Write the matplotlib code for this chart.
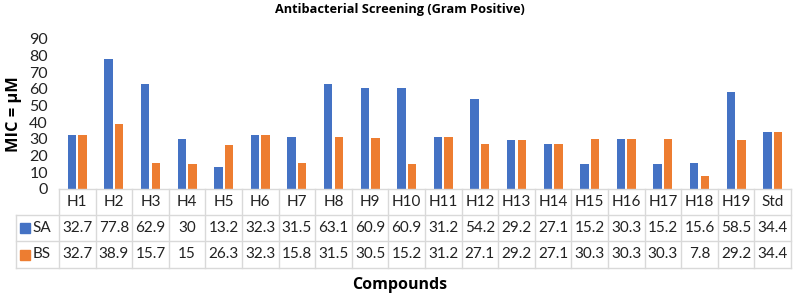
import matplotlib.pyplot as plt
from matplotlib.transforms import blended_transform_factory
import numpy as np

# data
compounds = ['H1', 'H2', 'H3', 'H4', 'H5', 'H6', 'H7', 'H8', 'H9', 'H10',
             'H11', 'H12', 'H13', 'H14', 'H15', 'H16', 'H17', 'H18', 'H19', 'Std']
sa = [32.7, 77.8, 62.9, 30, 13.2, 32.3, 31.5, 63.1, 60.9, 60.9,
      31.2, 54.2, 29.2, 27.1, 15.2, 30.3, 15.2, 15.6, 58.5, 34.4]
bs = [32.7, 38.9, 15.7, 15, 26.3, 32.3, 15.8, 31.5, 30.5, 15.2,
      31.2, 27.1, 29.2, 27.1, 30.3, 30.3, 30.3, 7.8, 29.2, 34.4]
series = [('SA', sa, '#4472C4'), ('BS', bs, '#ED7D31')]

plt.rcParams['font.family'] = ['Lato', 'DejaVu Sans']
bold_font = ['Open Sans', 'DejaVu Sans']

fig = plt.figure(figsize=(7.99, 2.96), dpi=100)
ax = fig.add_axes([59/799, 1-189/296, 732/799, 150/296])

x = np.arange(len(compounds))
w = 0.23
ax.bar(x - w/2 - 0.03, sa, width=w, color='#4472C4')
ax.bar(x + w/2 + 0.03, bs, width=w, color='#ED7D31')

ax.set_xlim(-0.5, len(compounds) - 0.5)
ax.set_ylim(0, 90)
ax.set_yticks(range(0, 91, 10))
ax.tick_params(axis='y', length=0, pad=8, labelsize=11.5, colors='#222222')
ax.set_xticks([])
for s in ax.spines.values():
    s.set_visible(False)

# table under the axis
tr = blended_transform_factory(ax.transData, ax.transAxes)
row_y = [0, -26/150, -52/150, -79/150]
left = -0.5 - 43/36.6
grid = dict(color='#d9d9d9', lw=1, transform=tr, clip_on=False)
n = len(compounds)
# horizontal lines
ax.plot([-0.5, n - 0.5], [row_y[0]] * 2, **grid)
for yy in row_y[1:]:
    ax.plot([left, n - 0.5], [yy] * 2, **grid)
# vertical lines
for b in np.arange(-0.5, n, 1.0):
    ax.plot([b, b], [row_y[0], row_y[3]], **grid)
ax.plot([left, left], [row_y[1], row_y[3]], **grid)

tkw = dict(transform=tr, ha='center', va='center', fontsize=11,
           color='#222222', clip_on=False)
for i, c in enumerate(compounds):
    ax.text(i, (row_y[0] + row_y[1]) / 2, c, **tkw)
for r, (name, vals, col) in enumerate(series):
    yc = (row_y[r + 1] + row_y[r + 2]) / 2
    for i, v in enumerate(vals):
        ax.text(i, yc, f'{v:g}', **tkw)
    ax.plot([left + 0.25], [yc], marker='s', ms=7, color=col,
            transform=tr, clip_on=False)
    ax.text(left + 0.45, yc, name, transform=tr, ha='left', va='center',
            fontsize=11, color='#222222', clip_on=False)

fig.text(0.5, 1 - 10/296, 'Antibacterial Screening (Gram Positive)',
         ha='center', va='center', fontsize=9.2, fontweight='bold',
         family=bold_font)
fig.text(0.5, 1 - 285/296, 'Compounds', ha='center', va='center',
         fontsize=11.5, fontweight='bold', family=bold_font)
fig.text(14/799, 1 - 114/296, 'MIC = µM', ha='center', va='center',
         rotation=90, fontsize=11.8, fontweight='bold', family=bold_font)

fig.savefig('out.png', dpi=100)
